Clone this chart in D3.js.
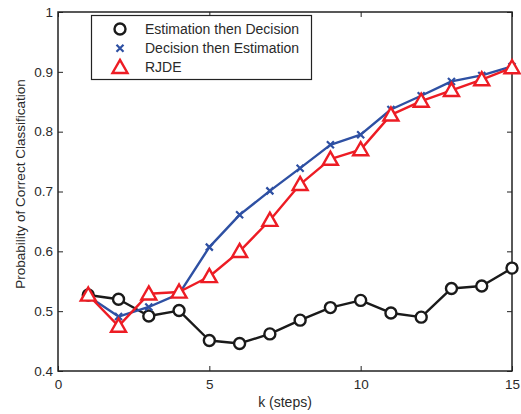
<!DOCTYPE html>
<html>
<head>
<meta charset="utf-8">
<script src="https://cdn.jsdelivr.net/npm/d3@7"></script>
<style>
  html, body { margin: 0; padding: 0; background: #fff; }
  svg { display: block; font-family: "Liberation Sans", Arial, Helvetica, sans-serif; }
</style>
</head>
<body>
<svg id="chart" width="521" height="414"></svg>
<script>
// Steps k and the classification probability for each method
const steps = [1, 2, 3, 4, 5, 6, 7, 8, 9, 10, 11, 12, 13, 14, 15];
const estThenDec = [0.527, 0.520, 0.492, 0.501, 0.451, 0.446, 0.462, 0.485, 0.506, 0.518, 0.497, 0.490, 0.538, 0.542, 0.572];
const decThenEst = [0.525, 0.491, 0.507, 0.529, 0.607, 0.661, 0.701, 0.739, 0.778, 0.795, 0.837, 0.860, 0.884, 0.894, 0.909];
const rjde = [0.527, 0.475, 0.529, 0.532, 0.558, 0.600, 0.652, 0.712, 0.754, 0.770, 0.828, 0.851, 0.869, 0.887, 0.907];

const xTicks = [0, 5, 10, 15];
const yTicks = [0.4, 0.5, 0.6, 0.7, 0.8, 0.9, 1];
const seriesNames = ["Estimation then Decision", "Decision then Estimation", "RJDE"];

const series = [
  { name: seriesNames[0], values: estThenDec, color: "#1a1a1a", marker: "circle" },
  { name: seriesNames[1], values: decThenEst, color: "#2e50a3", marker: "cross" },
  { name: seriesNames[2], values: rjde, color: "#ed1c24", marker: "triangle" }
];

const svg = d3.select("#chart");
const plotLeft = 58, plotRight = 512, plotTop = 12, plotBottom = 371;

const x = d3.scaleLinear().domain([0, 15]).range([plotLeft, plotRight]);
const y = d3.scaleLinear().domain([0.4, 1]).range([plotBottom, plotTop]);

const tickLen = 5;
const axisColor = "#222";
const textColor = "#2a2a2a";

// Axes with inward ticks on all four sides
const gx = svg.append("g").attr("transform", `translate(0,${plotBottom})`)
  .call(d3.axisBottom(x).tickValues(xTicks).tickSizeInner(-tickLen).tickSizeOuter(0).tickPadding(8).tickFormat(d3.format("d")));
const gxTop = svg.append("g").attr("transform", `translate(0,${plotTop})`)
  .call(d3.axisTop(x).tickValues(xTicks).tickSizeInner(-tickLen).tickSizeOuter(0).tickFormat(""));
const gy = svg.append("g").attr("transform", `translate(${plotLeft},0)`)
  .call(d3.axisLeft(y).tickValues(yTicks).tickSizeInner(-tickLen).tickSizeOuter(0).tickPadding(5).tickFormat(d => d === 1 ? "1" : d3.format(".1f")(d)));
const gyRight = svg.append("g").attr("transform", `translate(${plotRight},0)`)
  .call(d3.axisRight(y).tickValues(yTicks).tickSizeInner(-tickLen).tickSizeOuter(0).tickFormat(""));

[gx, gxTop, gy, gyRight].forEach(g => {
  g.select(".domain").remove();
  g.selectAll(".tick line").attr("stroke", axisColor).attr("stroke-width", 1);
  g.selectAll(".tick text").attr("fill", textColor).attr("font-size", 13.5)
    .attr("font-family", "Liberation Sans, Arial, sans-serif");
});
gx.selectAll(".tick text").attr("dy", "0.71em");

// Box
svg.append("rect")
  .attr("x", plotLeft).attr("y", plotTop)
  .attr("width", plotRight - plotLeft).attr("height", plotBottom - plotTop)
  .attr("fill", "none").attr("stroke", axisColor).attr("stroke-width", 1.5);

// Axis titles
svg.append("text")
  .attr("x", x(7.5)).attr("y", 406.5)
  .attr("text-anchor", "middle").attr("font-size", 14).attr("fill", textColor)
  .text("k (steps)");
svg.append("text")
  .attr("transform", `translate(25,184) rotate(-90)`)
  .attr("text-anchor", "middle").attr("font-size", 13.5).attr("fill", textColor)
  .text("Probability of Correct Classification");

function drawMarker(g, type, color, cx, cy) {
  if (type === "circle") {
    g.append("circle").attr("cx", cx).attr("cy", cy).attr("r", 5.5)
      .attr("fill", "#fff").attr("stroke", color).attr("stroke-width", 2.4);
  } else if (type === "cross") {
    const s = 3.5;
    g.append("path")
      .attr("d", `M${cx - s},${cy - s}L${cx + s},${cy + s}M${cx - s},${cy + s}L${cx + s},${cy - s}`)
      .attr("stroke", color).attr("stroke-width", 2.2).attr("fill", "none");
  } else {
    const h = 7.5, w = 7.5;
    g.append("path")
      .attr("d", `M${cx},${cy - h}L${cx + w},${cy + h * 0.75}L${cx - w},${cy + h * 0.75}Z`)
      .attr("fill", "#fff").attr("stroke", color).attr("stroke-width", 2.4)
      .attr("stroke-linejoin", "miter");
  }
}

const line = d3.line().x(d => x(d[0])).y(d => y(d[1]));

// Draw order: black, blue, red on top
series.forEach(s => {
  const pts = steps.map((k, i) => [k, s.values[i]]);
  const g = svg.append("g");
  g.append("path").datum(pts).attr("d", line)
    .attr("fill", "none").attr("stroke", s.color).attr("stroke-width", 2.4)
    .attr("stroke-linejoin", "round");
  pts.forEach(p => drawMarker(g, s.marker, s.color, x(p[0]), y(p[1])));
});

// Legend
const lg = svg.append("g");
lg.append("rect").attr("x", 91.5).attr("y", 15.5).attr("width", 220).attr("height", 64)
  .attr("fill", "#fff").attr("stroke", "#222").attr("stroke-width", 1.2);
series.forEach((s, i) => {
  const cy = 29 + i * 19.2;
  drawMarker(lg, s.marker, s.color, 120, cy);
  lg.append("text").attr("x", 145).attr("y", cy).attr("dy", "0.35em")
    .attr("font-size", 14).attr("fill", textColor).text(s.name);
});
</script>
</body>
</html>
